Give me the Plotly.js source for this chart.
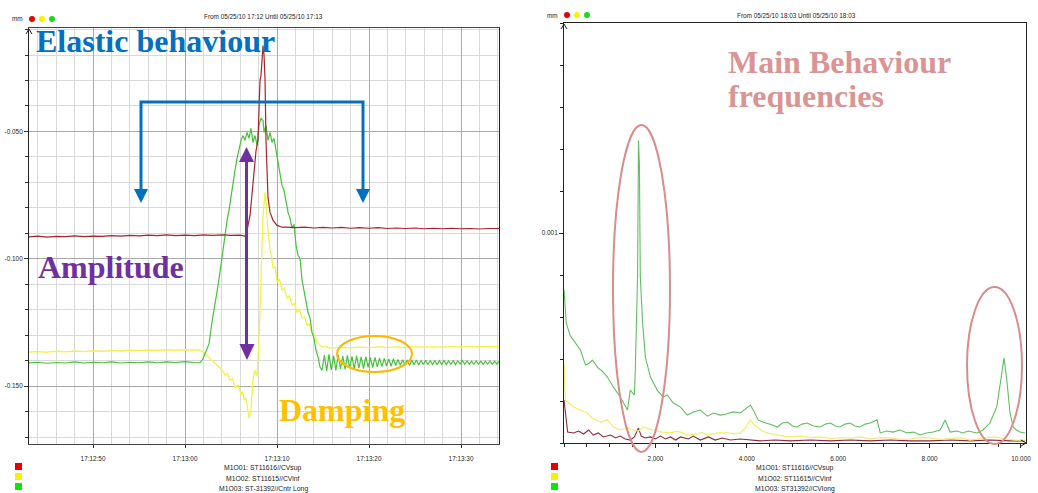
<!DOCTYPE html>
<html><head><meta charset="utf-8">
<script src="https://cdn.plot.ly/plotly-3.0.1.min.js"></script>
<style>html,body{margin:0;padding:0;background:#fff;}#chart{width:1038px;height:493px;}</style>
</head><body><div id="chart"></div>
<script>
// ---------- LEFT CHART (time domain), t = seconds after 17:12:00 ----------
const redLeft = [[43,-0.0914],[44,-0.0911],[45,-0.0915],[46,-0.0912],[47,-0.0913],[48,-0.0910],[49,-0.0913],[50,-0.0911],[51,-0.0912],[52,-0.0909],[53,-0.0911],[54,-0.0908],[55,-0.0910],[56,-0.0907],[57,-0.0909],[58,-0.0906],[59,-0.0909],[60,-0.0907],[61,-0.0909],[62,-0.0906],[63,-0.0908],[64,-0.0906],[65,-0.0908],[66,-0.0907],[66.52,-0.0912],[66.74,-0.0888],[67.07,-0.0829],[67.39,-0.0704],[67.72,-0.0575],[67.93,-0.0535],[68.15,-0.0300],[68.26,-0.0280],[68.37,-0.0222],[68.48,-0.0163],[68.59,-0.0202],[68.70,-0.0300],[68.80,-0.0535],[68.91,-0.0653],[69.02,-0.0759],[69.24,-0.0818],[69.57,-0.0849],[70.0,-0.0869],[70.54,-0.0876],[71,-0.0876],[72,-0.0878],[73,-0.0876],[74,-0.0879],[75,-0.0877],[76,-0.0879],[77,-0.0877],[78,-0.0880],[79,-0.0878],[80,-0.0880],[81,-0.0878],[82,-0.0881],[83,-0.0879],[84,-0.0881],[85,-0.0879],[86,-0.0882],[87,-0.0880],[88,-0.0882],[89,-0.0880],[90,-0.0882],[91,-0.0881],[92,-0.0883],[93,-0.0881],[94,-0.0882],[94.2,-0.0881]];

const yellowLeft = [[43,-0.1366],[44,-0.1364],[45,-0.1366],[46,-0.1363],[47,-0.1365],[48,-0.1362],[49,-0.1364],[50,-0.1361],[51,-0.1363],[52,-0.1360],[53,-0.1362],[54,-0.1359],[55,-0.1361],[56,-0.1358],[57,-0.1360],[58,-0.1357],[59,-0.1359],[60,-0.1357],[61,-0.1358],[61.63,-0.1359],[62.17,-0.1371],[62.72,-0.1390],[63.26,-0.1410],[63.80,-0.1429],[64.10,-0.1440],[64.35,-0.1457],[64.60,-0.1450],[64.89,-0.1476],[65.15,-0.1470],[65.43,-0.1504],[65.76,-0.1496],[66.09,-0.1535],[66.25,-0.1520],[66.41,-0.1555],[66.60,-0.1545],[66.74,-0.1575],[66.96,-0.1625],[67.17,-0.1594],[67.39,-0.1469],[67.61,-0.1437],[67.83,-0.1461],[68.04,-0.1320],[68.26,-0.1045],[68.48,-0.0829],[68.70,-0.0739],[68.80,-0.0771],[69.02,-0.0888],[69.24,-0.0967],[69.40,-0.0990],[69.57,-0.1037],[69.80,-0.1030],[70.00,-0.1092],[70.27,-0.1080],[70.54,-0.1124],[70.80,-0.1115],[71.09,-0.1155],[71.35,-0.1145],[71.63,-0.1182],[71.90,-0.1175],[72.17,-0.1210],[72.45,-0.1200],[72.72,-0.1233],[73.00,-0.1228],[73.26,-0.1261],[73.55,-0.1255],[73.80,-0.1292],[74.10,-0.1300],[74.35,-0.1327],[74.60,-0.1335],[74.89,-0.1347],[75.30,-0.1344],[75.76,-0.1351],[76,-0.1350],[77,-0.1348],[78,-0.1350],[79,-0.1347],[80,-0.1349],[81,-0.1346],[82,-0.1348],[83,-0.1346],[84,-0.1348],[85,-0.1345],[86,-0.1347],[87,-0.1345],[88,-0.1347],[89,-0.1344],[90,-0.1346],[91,-0.1344],[92,-0.1346],[93,-0.1344],[94,-0.1345],[94.2,-0.1344]];

const greenLeft = [[43,-0.1409],[44,-0.1406],[45,-0.1410],[46,-0.1407],[47,-0.1409],[48,-0.1405],[49,-0.1409],[50,-0.1406],[51,-0.1408],[52,-0.1405],[53,-0.1409],[54,-0.1406],[55,-0.1408],[56,-0.1405],[57,-0.1408],[58,-0.1405],[59,-0.1407],[60,-0.1404],[61,-0.1407],[61.63,-0.1408],[61.96,-0.1392],[62.28,-0.1361],[62.61,-0.1333],[62.93,-0.1249],[63.26,-0.1182],[63.59,-0.1104],[63.91,-0.1025],[64.24,-0.0927],[64.57,-0.0849],[64.78,-0.0810],[65.00,-0.0751],[65.22,-0.0692],[65.43,-0.0653],[65.65,-0.0606],[65.87,-0.0567],[66.09,-0.0535],[66.30,-0.0516],[66.52,-0.0535],[66.74,-0.0504],[66.96,-0.0527],[67.17,-0.0488],[67.39,-0.0543],[67.61,-0.0516],[67.83,-0.0555],[68.04,-0.0476],[68.26,-0.0449],[68.48,-0.0457],[68.59,-0.0504],[68.80,-0.0476],[69.02,-0.0535],[69.24,-0.0504],[69.46,-0.0543],[69.67,-0.0527],[69.89,-0.0575],[70.11,-0.0622],[70.33,-0.0661],[70.54,-0.0712],[70.76,-0.0731],[70.98,-0.0771],[71.20,-0.0818],[71.41,-0.0841],[71.63,-0.0880],[71.85,-0.0865],[72.07,-0.0947],[72.28,-0.0986],[72.50,-0.0998],[72.72,-0.1084],[72.93,-0.1124],[73.15,-0.1163],[73.37,-0.1210],[73.59,-0.1233],[73.80,-0.1288],[74.02,-0.1312],[74.24,-0.1359],[74.46,-0.1386],[74.67,-0.1425],
[74.9,-0.1437],[75.15,-0.1378],[75.4,-0.1440],[75.65,-0.1375],[75.9,-0.1436],[76.15,-0.1380],[76.4,-0.1438],[76.65,-0.1376],[76.9,-0.1432],[77.15,-0.1382],[77.4,-0.1434],[77.65,-0.1379],[77.9,-0.1430],[78.15,-0.1383],[78.4,-0.1433],[78.65,-0.1381],[78.9,-0.1429],[79.15,-0.1385],[79.4,-0.1431],[79.65,-0.1384],[79.9,-0.1426],[80.15,-0.1388],[80.4,-0.1427],[80.65,-0.1387],[80.9,-0.1424],[81.15,-0.1390],[81.4,-0.1423],[81.65,-0.1391],[81.9,-0.1421],[82.15,-0.1393],[82.4,-0.1422],[82.65,-0.1392],[82.9,-0.1419],[83.15,-0.1395],[83.4,-0.1418],[83.65,-0.1396],[83.9,-0.1417],[84.15,-0.1397],[84.4,-0.1418],[84.65,-0.1398],[84.9,-0.1416],[85.15,-0.1397],[85.4,-0.1417],[85.65,-0.1399],[85.9,-0.1415],[86.15,-0.1398],[86.4,-0.1416],[86.65,-0.1400],[86.9,-0.1415],[87.15,-0.1399],[87.4,-0.1416],[87.65,-0.1400],[87.9,-0.1414],[88.15,-0.1399],[88.4,-0.1415],[88.65,-0.1401],[88.9,-0.1414],[89.15,-0.1400],[89.4,-0.1415],[89.65,-0.1401],[89.9,-0.1413],[90.15,-0.1400],[90.4,-0.1414],[90.65,-0.1401],[90.9,-0.1413],[91.15,-0.1402],[91.4,-0.1414],[91.65,-0.1401],[91.9,-0.1413],[92.15,-0.1402],[92.4,-0.1414],[92.65,-0.1402],[92.9,-0.1413],[93.15,-0.1401],[93.4,-0.1414],[93.65,-0.1402],[93.9,-0.1413],[94.15,-0.1403]];

const leftTickVals = [50, 60, 70, 80, 90];
const leftTickText = ['17:12:50', '17:13:00', '17:13:10', '17:13:20', '17:13:30'];
const leftYTickVals = [-0.15, -0.10, -0.05];
const leftYTickText = ['-0.150', '-0.100', '-0.050'];

// ---------- RIGHT CHART (frequency domain) ----------
const greenRight = [[0,0.00073],[0.05,0.00057],[0.14,0.00051],[0.21,0.00049],[0.30,0.00046],[0.36,0.000443],[0.47,0.000371],[0.55,0.00038],[0.62,0.000395],[0.75,0.000357],[0.85,0.00034],[0.95,0.000314],[1.08,0.000267],[1.23,0.000219],[1.39,0.000157],[1.45,0.000252],[1.54,0.000229],[1.56,0.000348],[1.61,0.00079],[1.63,0.00144],[1.65,0.00133],[1.67,0.00079],[1.72,0.000571],[1.78,0.00041],[1.89,0.000314],[2.04,0.000252],[2.17,0.000219],[2.26,0.000229],[2.39,0.00019],[2.55,0.000171],[2.70,0.000133],[2.83,0.000148],[2.98,0.000157],[3.14,0.000128],[3.27,0.000143],[3.42,0.000133],[3.55,0.000138],[3.70,0.000148],[3.86,0.000143],[3.97,0.00016],[4.08,0.000181],[4.14,0.000157],[4.25,0.00011],[4.35,0.0001],[4.45,0.000095],[4.56,0.000086],[4.67,0.000076],[4.78,0.000095],[4.89,0.0001],[5.00,0.000081],[5.10,0.000076],[5.21,0.00009],[5.32,0.000095],[5.46,0.000081],[5.61,0.000076],[5.72,0.00009],[5.83,0.000095],[5.94,0.000081],[6.04,0.000076],[6.15,0.00009],[6.26,0.000095],[6.37,0.000081],[6.48,0.000076],[6.59,0.00009],[6.70,0.000095],[6.85,0.00011],[6.92,0.000048],[7.06,0.000057],[7.20,0.000052],[7.35,0.000062],[7.51,0.000048],[7.65,0.000052],[7.79,0.000038],[7.93,0.000048],[8.08,0.000052],[8.23,0.000062],[8.34,0.00011],[8.45,0.000052],[8.60,0.000057],[8.73,0.000048],[8.84,0.000057],[8.95,0.000052],[9.04,0.000048],[9.17,0.000062],[9.32,0.000095],[9.47,0.000171],[9.56,0.0003],[9.63,0.000405],[9.69,0.0003],[9.76,0.000143],[9.83,0.000076],[9.90,0.000062],[9.98,0.000052],[10.09,0.000048]];

const yellowRight = [[0,0.00038],[0.03,0.000205],[0.21,0.000171],[0.36,0.000157],[0.51,0.000143],[0.62,0.000119],[0.80,0.0001],[0.95,0.00011],[1.08,0.000076],[1.23,0.000062],[1.39,0.000071],[1.52,0.000062],[1.63,0.000057],[1.74,0.000076],[1.85,0.000067],[1.96,0.000062],[2.15,0.000052],[2.33,0.000048],[2.45,0.000055],[2.55,0.000052],[2.70,0.000038],[2.92,0.000043],[3.02,0.00005],[3.14,0.000038],[3.36,0.000048],[3.57,0.000048],[3.75,0.000043],[3.86,0.000048],[3.97,0.000071],[4.03,0.000095],[4.08,0.00011],[4.14,0.00009],[4.23,0.000076],[4.34,0.000057],[4.45,0.000048],[4.67,0.000038],[4.89,0.000029],[5.17,0.000033],[5.40,0.000026],[5.61,0.000029],[5.82,0.000022],[6.04,0.000024],[6.33,0.000024],[6.50,0.000029],[6.70,0.000019],[6.92,0.000026],[7.14,0.000024],[7.35,0.000017],[7.57,0.000019],[7.80,0.000026],[8.01,0.000024],[8.25,0.000017],[8.45,0.000019],[8.67,0.000024],[8.89,0.000014],[9.05,0.000019],[9.21,0.000024],[9.43,0.000029],[9.65,0.000019],[9.87,0.000014],[10.09,0.000014]];

const redRight = [[0,0.000205],[0.08,0.000052],[0.21,0.000048],[0.32,0.000057],[0.43,0.000043],[0.54,0.000062],[0.64,0.000038],[0.75,0.000048],[0.86,0.000029],[1.02,0.000038],[1.13,0.000024],[1.23,0.000033],[1.34,0.000019],[1.45,0.000014],[1.54,0.000029],[1.63,0.000071],[1.69,0.000033],[1.78,0.000024],[1.89,0.000029],[2.00,0.000019],[2.11,0.000033],[2.22,0.000019],[2.33,0.000029],[2.44,0.000014],[2.55,0.000029],[2.72,0.000019],[2.83,0.000033],[2.98,0.000014],[3.16,0.000029],[3.31,0.000014],[3.46,0.000024],[3.64,0.000014],[3.86,0.000019],[4.08,0.000014],[4.30,0.00001],[4.62,0.000014],[4.95,0.00001],[5.39,0.000014],[5.83,0.00001],[6.26,0.000014],[6.70,0.00001],[7.14,0.000014],[7.57,0.00001],[8.01,0.00001],[8.45,0.000014],[8.89,0.00001],[9.32,0.000014],[9.76,0.00001],[10.09,0.00001]];

const rightTickVals = [2, 4, 6, 8, 10];
const rightTickText = ['2.000', '4.000', '6.000', '8.000', '10.000'];
const rightYTickVals = [0.001];
const rightYTickText = ['0.001'];

// ---------- helpers ----------
const W = 1038, H = 493;
const X = p => p / W;
const Y = p => 1 - p / H;
const BASE = Date.UTC(2010, 4, 25, 17, 12, 0);
const toMs = t => BASE + t * 1000;
const path = (pts, close) => pts.map((p, i) => (i ? 'L' : 'M') + X(p[0]).toFixed(5) + ',' + Y(p[1]).toFixed(5)).join(' ') + (close ? ' Z' : '');

const SANS = 'Liberation Sans, Arial, sans-serif';
const TICKFONT = {family: SANS, size: 6.4, color: '#222'};
const SERIF = 'Liberation Serif, Times New Roman, serif';

function lineTrace(pairs, color, xa, ya, isTime, w) {
  return {
    type: 'scatter', mode: 'lines',
    x: pairs.map(p => isTime ? toMs(p[0]) : p[0]),
    y: pairs.map(p => p[1]),
    xaxis: xa, yaxis: ya,
    line: {color: color, width: w},
    hoverinfo: 'skip', showlegend: false
  };
}

const data = [
  lineTrace(yellowLeft, '#f2f24a', 'x', 'y', true, 1.3),
  lineTrace(greenLeft, '#45c23a', 'x', 'y', true, 1.2),
  lineTrace(redLeft, '#a8242a', 'x', 'y', true, 1.2),
  lineTrace(redRight, '#8c2a3c', 'x2', 'y2', false, 1.1),
  lineTrace(yellowRight, '#eeee70', 'x2', 'y2', false, 1.2),
  lineTrace(greenRight, '#62be62', 'x2', 'y2', false, 1.1)
];

const layout = {
  width: W, height: H, autosize: false,
  margin: {l: 0, r: 0, t: 0, b: 0},
  paper_bgcolor: '#fff', plot_bgcolor: '#fff',
  showlegend: false,
  xaxis: {
    type: 'date', domain: [X(29), X(499)], anchor: 'y',
    range: [toMs(43.04), toMs(94.13)],
    tickmode: 'array', tickvals: leftTickVals.map(toMs), ticktext: leftTickText,
    showgrid: true, gridcolor: '#a9a9a9', gridwidth: 1,
    minor: {tickmode: 'linear', tick0: toMs(0), dtick: 2000, showgrid: true, gridcolor: '#d9d9d9', ticks: ''},
    ticks: 'outside', ticklen: 3, tickcolor: '#333',
    showline: true, linecolor: '#444', linewidth: 1, mirror: true,
    zeroline: false, tickfont: TICKFONT, ticklabelstandoff: 5, fixedrange: true
  },
  xaxis3: {
    type: 'date', overlaying: 'x', anchor: 'y', side: 'bottom',
    range: [toMs(43.04), toMs(94.13)],
    tickmode: 'linear', tick0: toMs(0), dtick: 1000,
    ticks: 'inside', ticklen: 3, tickcolor: '#333',
    showticklabels: false, showgrid: false, showline: false, zeroline: false
  },
  yaxis: {
    domain: [Y(444), Y(28)], anchor: 'x',
    range: [-0.1727, -0.0094],
    tickmode: 'array', tickvals: leftYTickVals, ticktext: leftYTickText,
    showgrid: true, gridcolor: '#a9a9a9',
    minor: {tickmode: 'linear', tick0: 0, dtick: 0.01, showgrid: true, gridcolor: '#d9d9d9', ticks: 'outside', ticklen: 3, tickcolor: '#333'},
    ticks: 'outside', ticklen: 4, tickcolor: '#333',
    showline: true, linecolor: '#222', linewidth: 1, mirror: true,
    zeroline: false, tickfont: TICKFONT, fixedrange: true
  },
  xaxis2: {
    domain: [X(564), X(1026)], anchor: 'y2',
    range: [0, 10.11],
    tickmode: 'array', tickvals: rightTickVals, ticktext: rightTickText,
    minor: {tickmode: 'linear', tick0: 0, dtick: 0.5, ticks: 'outside', ticklen: 3, tickcolor: '#222', showgrid: false},
    ticks: 'outside', ticklen: 4, tickcolor: '#222',
    showgrid: false, showline: true, linecolor: '#222', linewidth: 1, mirror: true,
    zeroline: false, tickfont: TICKFONT, ticklabelstandoff: 5, fixedrange: true
  },
  yaxis2: {
    domain: [Y(443), Y(23)], anchor: 'x2',
    range: [0, 0.002],
    tickmode: 'array', tickvals: rightYTickVals, ticktext: rightYTickText,
    minor: {tickmode: 'linear', tick0: 0, dtick: 0.0002, ticks: 'outside', ticklen: 3, tickcolor: '#222', showgrid: false},
    ticks: 'outside', ticklen: 4, tickcolor: '#222',
    showgrid: false, showline: true, linecolor: '#222', linewidth: 1, mirror: true,
    zeroline: false, tickfont: TICKFONT, fixedrange: true
  },
  annotations: [],
  shapes: []
};

const A = layout.annotations, S = layout.shapes;
function txt(text, px, py, font, xanchor) {
  A.push({text: text, xref: 'paper', yref: 'paper', x: X(px), y: Y(py), xanchor: xanchor || 'center', yanchor: 'middle', showarrow: false, font: font, borderpad: 0});
}
const head = {family: SANS, size: 6.4, color: '#222'};
const leg = {family: SANS, size: 6.8, color: '#222'};

// headers
txt('mm', 17, 18, head);
txt('From 05/25/10 17:12 Until 05/25/10 17:13', 263, 17, head);
txt('mm', 552, 15, head);
txt('From 05/25/10 18:03 Until 05/25/10 18:03', 796, 15, head);
// legends
txt('M1O01: ST11616//CVsup', 263, 468, leg);
txt('M1O02: ST11615//CVinf', 263, 478, leg);
txt('M1O03: ST-31392//Cntr Long', 263, 489, leg);
txt('M1O01: ST11616//CVsup', 795, 468, leg);
txt('M1O02: ST11615//CVinf', 795, 478, leg);
txt('M1O03: ST31392//CVlong', 795, 489, leg);
// big labels
txt('<b>Elastic behaviour</b>', 35, 41, {family: SERIF, size: 32, color: '#0070C0'}, 'left');
txt('<b>Amplitude</b>', 37, 267, {family: SERIF, size: 32, color: '#7030A0'}, 'left');
txt('<b>Damping</b>', 278, 410, {family: SERIF, size: 32, color: '#FFC000'}, 'left');
txt('<b>Main Behaviour</b>', 727, 62, {family: SERIF, size: 32, color: '#D99594'}, 'left');
txt('<b>frequencies</b>', 727, 96, {family: SERIF, size: 32, color: '#D99594'}, 'left');

// header dots
const dotColors = ['#e80000', '#f4f400', '#1ed81e'];
[[32, 19], [42, 19], [52, 19]].forEach((c, i) => S.push({type: 'circle', xref: 'paper', yref: 'paper', x0: X(c[0] - 3), x1: X(c[0] + 3), y0: Y(c[1] + 3), y1: Y(c[1] - 3), fillcolor: dotColors[i], line: {width: 0}}));
[[567, 15], [577, 15], [587, 15]].forEach((c, i) => S.push({type: 'circle', xref: 'paper', yref: 'paper', x0: X(c[0] - 3), x1: X(c[0] + 3), y0: Y(c[1] + 3), y1: Y(c[1] - 3), fillcolor: dotColors[i], line: {width: 0}}));
// legend squares
const sqColors = ['#e80000', '#f4f400', '#14e014'];
[463, 473, 483].forEach((y, i) => {
  S.push({type: 'rect', xref: 'paper', yref: 'paper', x0: X(15), x1: X(22), y0: Y(y + 7), y1: Y(y), fillcolor: sqColors[i], line: {width: 0}});
  S.push({type: 'rect', xref: 'paper', yref: 'paper', x0: X(551), x1: X(558), y0: Y(y + 7), y1: Y(y), fillcolor: sqColors[i], line: {width: 0}});
});
// axis arrow tips
S.push({type: 'path', xref: 'paper', yref: 'paper', path: path([[26, 34], [29, 29], [32, 34]]), line: {color: '#222', width: 1}});
S.push({type: 'path', xref: 'paper', yref: 'paper', path: path([[561, 29], [564, 24], [567, 29]]), line: {color: '#222', width: 1}});
S.push({type: 'path', xref: 'paper', yref: 'paper', path: path([[1021, 440], [1026, 443], [1021, 446]]), line: {color: '#222', width: 1}});

// blue bracket with arrows
const BLUE = '#0070C0', PURPLE = '#7030A0';
S.push({type: 'path', xref: 'paper', yref: 'paper', path: path([[141, 190], [141, 102], [363, 102], [363, 190]]), line: {color: BLUE, width: 3}});
S.push({type: 'path', xref: 'paper', yref: 'paper', path: path([[134, 189], [148, 189], [141, 203]], true), fillcolor: BLUE, line: {width: 0}});
S.push({type: 'path', xref: 'paper', yref: 'paper', path: path([[356, 189], [370, 189], [363, 203]], true), fillcolor: BLUE, line: {width: 0}});
// purple double arrow
S.push({type: 'path', xref: 'paper', yref: 'paper', path: path([[246.5, 158], [246.5, 348]]), line: {color: PURPLE, width: 3}});
S.push({type: 'path', xref: 'paper', yref: 'paper', path: path([[239, 162], [254, 162], [246.5, 147]], true), fillcolor: PURPLE, line: {width: 0}});
S.push({type: 'path', xref: 'paper', yref: 'paper', path: path([[239.5, 344], [254.5, 344], [247, 360]], true), fillcolor: PURPLE, line: {width: 0}});
// ellipses
S.push({type: 'circle', xref: 'paper', yref: 'paper', x0: X(337), x1: X(412), y0: Y(372), y1: Y(336), line: {color: '#FFB800', width: 2}});
S.push({type: 'circle', xref: 'paper', yref: 'paper', x0: X(613), x1: X(670), y0: Y(452), y1: Y(125), line: {color: '#D88C8B', width: 2}});
S.push({type: 'circle', xref: 'paper', yref: 'paper', x0: X(967), x1: X(1022), y0: Y(444), y1: Y(287), line: {color: '#D88C8B', width: 2}});

Plotly.newPlot('chart', data, layout, {staticPlot: true, displayModeBar: false});
</script></body></html>
